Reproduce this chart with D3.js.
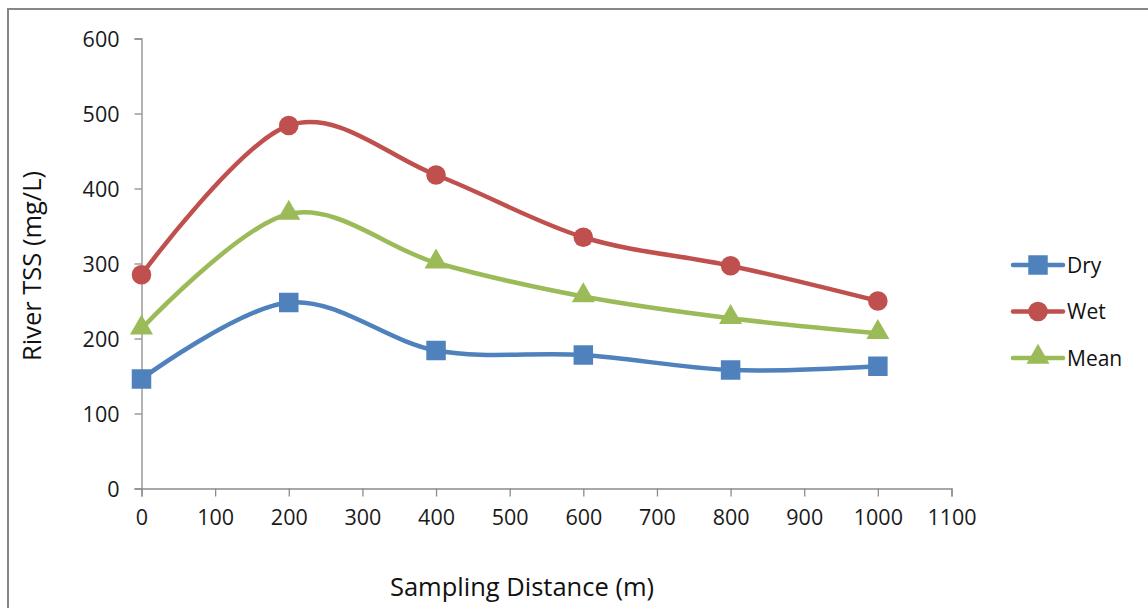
<!DOCTYPE html>
<html>
<head>
<meta charset="utf-8">
<script src="https://cdn.jsdelivr.net/npm/d3@7"></script>
<style>
  body { margin: 0; background: #fff; }
  svg { display: block; font-family: "Open Sans", sans-serif; }
</style>
</head>
<body>
<svg id="chart" width="1148" height="608"></svg>
<script>
const distances = [0, 200, 400, 600, 800, 1000]
const dryValues = [146, 248, 184, 178, 158, 163]
const wetValues = [285, 484, 418, 335, 297, 250]
const meanValues = [213, 366, 301, 256, 227, 207]
const xTicks = [0, 100, 200, 300, 400, 500, 600, 700, 800, 900, 1000, 1100]
const yTicks = [0, 100, 200, 300, 400, 500, 600]
const seriesNames = ['Dry', 'Wet', 'Mean']

const series = [
  { name: seriesNames[0], values: dryValues, color: '#4f81bd', shape: 'square' },
  { name: seriesNames[1], values: wetValues, color: '#c0504d', shape: 'circle' },
  { name: seriesNames[2], values: meanValues, color: '#9bbb59', shape: 'triangle' }
]

const svg = d3.select('#chart')

// outer chart frame (runs off the right and bottom edges)
svg.append('rect')
  .attr('x', 8).attr('y', 9)
  .attr('width', 1160).attr('height', 620)
  .attr('fill', 'none')
  .attr('stroke', '#878787')
  .attr('stroke-width', 2)

const x = d3.scaleLinear().domain([0, 1100]).range([141.5, 951.5])
const y = d3.scaleLinear().domain([0, 600]).range([488.5, 38.5])

const xAxis = svg.append('g')
  .attr('transform', 'translate(0,488.5)')
  .call(d3.axisBottom(x).tickValues(xTicks).tickSize(8).tickPadding(13).tickFormat(d3.format('d')))

const yAxis = svg.append('g')
  .attr('transform', 'translate(141.5,0)')
  .call(d3.axisLeft(y).tickValues(yTicks).tickSize(7).tickPadding(15).tickFormat(d3.format('d')))

;[xAxis, yAxis].forEach(g => {
  g.select('.domain').attr('stroke', '#8c8c8c').attr('stroke-width', 1.3)
  g.selectAll('.tick line').attr('stroke', '#8c8c8c').attr('stroke-width', 1.3)
  g.selectAll('.tick text').attr('fill', '#1a1a1a').attr('font-size', '21.5px').attr('font-family', '"Open Sans", sans-serif')
})
yAxis.selectAll('.tick text').attr('dy', '0.36em')

svg.append('text')
  .attr('transform', 'translate(41,266)rotate(-90)')
  .attr('text-anchor', 'middle')
  .attr('font-size', '25.5px')
  .attr('fill', '#111')
  .text('River TSS (mg/L)')

svg.append('text')
  .attr('x', 522).attr('y', 596)
  .attr('text-anchor', 'middle')
  .attr('font-size', '25.5px')
  .attr('fill', '#111')
  .text('Sampling Distance (m)')

const line = d3.line()
  .x((d, i) => x(distances[i]))
  .y(d => y(d))
  .curve(d3.curveCardinal.tension(0))

const symbolFor = {
  square: d3.symbol().type(d3.symbolSquare).size(380),
  circle: d3.symbol().type(d3.symbolCircle).size(300),
  triangle: d3.symbol().type(d3.symbolTriangle).size(230)
}

series.forEach(s => {
  svg.append('path')
    .attr('d', line(s.values))
    .attr('fill', 'none')
    .attr('stroke', s.color)
    .attr('stroke-width', 4.5)
    .attr('stroke-linecap', 'round')
})

series.forEach(s => {
  svg.selectAll(null)
    .data(s.values)
    .enter()
    .append('path')
      .attr('d', symbolFor[s.shape])
      .attr('transform', (d, i) => `translate(${x(distances[i])},${y(d) + (s.shape === 'triangle' ? -1 : 0)})`)
      .attr('fill', s.color)
})

// legend
const legend = svg.append('g')
  .selectAll('g')
  .data(series)
  .enter()
  .append('g')
    .attr('transform', (d, i) => `translate(1013,${265 + i * 46.5})`)

legend.append('line')
  .attr('x1', 0).attr('x2', 50)
  .attr('stroke', d => d.color)
  .attr('stroke-width', 4.5)
  .attr('stroke-linecap', 'round')

legend.append('path')
  .attr('d', d => symbolFor[d.shape]())
  .attr('transform', d => `translate(25,${d.shape === 'triangle' ? -1 : 0})`)
  .attr('fill', d => d.color)

legend.append('text')
  .attr('x', 54)
  .attr('dy', '0.36em')
  .attr('font-size', '21px')
  .attr('fill', '#111')
  .text(d => d.name)
</script>
</body>
</html>
